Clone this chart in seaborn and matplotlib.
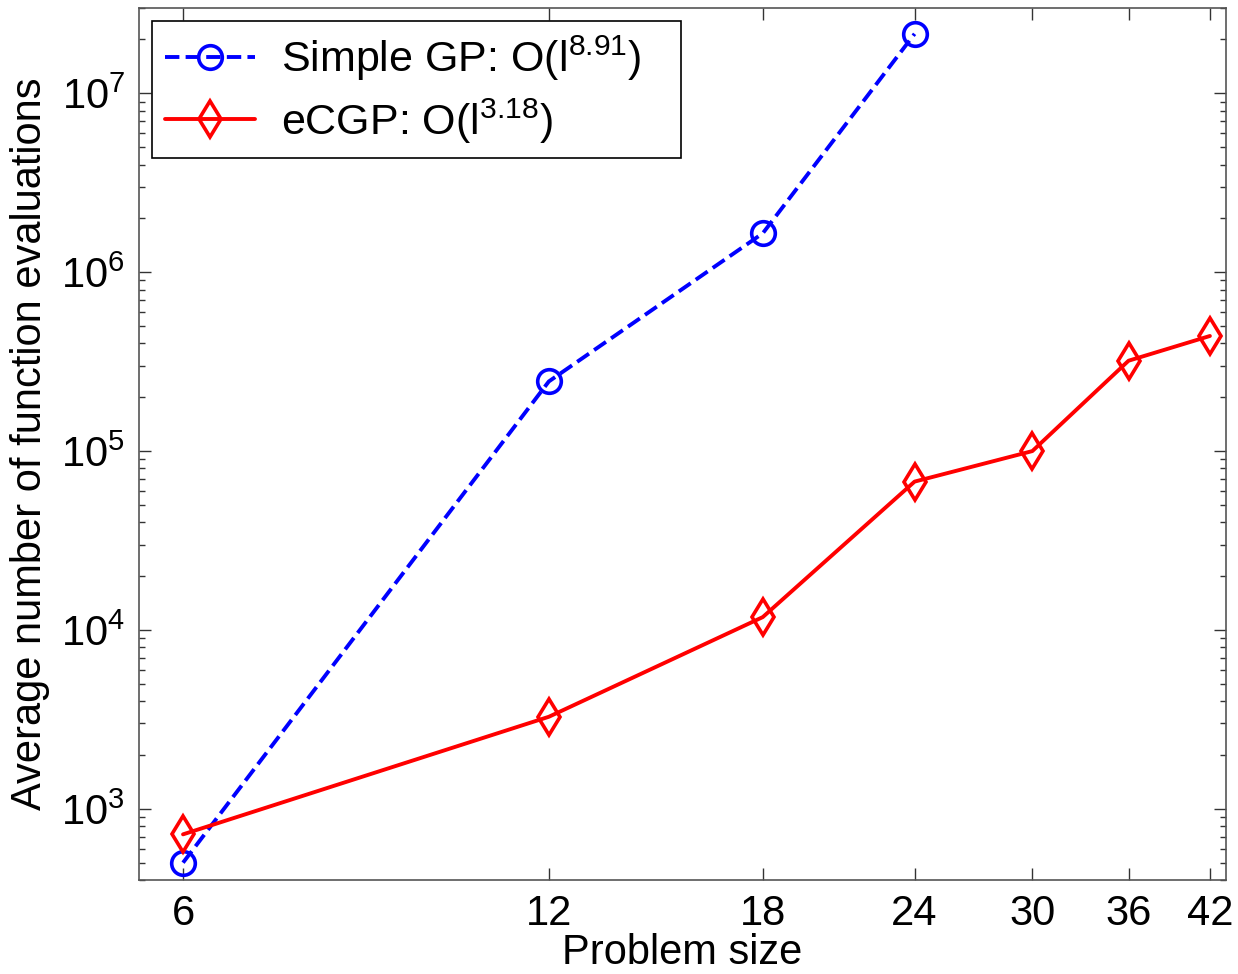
import numpy as np
import pandas as pd
import matplotlib
matplotlib.use("Agg")
import matplotlib.pyplot as plt
import seaborn as sns
from matplotlib.ticker import NullLocator, LogLocator

# data
sizes = [6, 12, 18, 24, 30, 36, 42]
gp_sizes = [6, 12, 18, 24]
gp_evals = [500, 2.45e5, 1.65e6, 2.15e7]
ecgp_evals = [720, 3270, 11800, 67500, 1.0e5, 3.2e5, 4.4e5]

# trailing spaces widen the legend box like the reference
gp_label = 'Simple GP: O(l$^{8.91}$)   '
ecgp_label = 'eCGP: O(l$^{3.18}$)'

sns.set_style("ticks")
plt.rcParams['font.family'] = ['Liberation Sans', 'DejaVu Sans']
plt.rcParams['mathtext.fontset'] = 'custom'
plt.rcParams['mathtext.rm'] = 'Liberation Sans'
plt.rcParams['mathtext.it'] = 'Liberation Sans:italic'
plt.rcParams['mathtext.bf'] = 'Liberation Sans:bold'
plt.rcParams['text.color'] = 'black'
plt.rcParams['axes.labelcolor'] = 'black'

df_gp = pd.DataFrame({'size': gp_sizes, 'evals': gp_evals})
df_ecgp = pd.DataFrame({'size': sizes, 'evals': ecgp_evals})

fig = plt.figure(figsize=(12.38, 9.74), dpi=100)
ax = fig.add_axes([0.1123, 0.0965, 0.8780, 0.8953])

sns.lineplot(data=df_gp, x='size', y='evals', ax=ax, color='#0000ff',
             linestyle='--', linewidth=2.8, marker='o', markersize=17,
             markerfacecolor='none', markeredgecolor='#0000ff',
             markeredgewidth=2.6, label=gp_label)
sns.lineplot(data=df_ecgp, x='size', y='evals', ax=ax, color='#ff0000',
             linestyle='-', linewidth=2.8, marker='d', markersize=18,
             markerfacecolor='none', markeredgecolor='#ff0000',
             markeredgewidth=2.6, label=ecgp_label)

ax.set_xscale('log')
ax.set_yscale('log')
ax.set_xlim(5.52, 43.3)
ax.set_ylim(400, 3e7)
ax.set_xticks(sizes)
ax.set_xticklabels([str(s) for s in sizes])
ax.xaxis.set_minor_locator(NullLocator())
ax.yaxis.set_major_locator(LogLocator(base=10, numticks=10))
ax.yaxis.set_minor_locator(LogLocator(base=10, subs=np.arange(2, 10), numticks=20))

for sp in ax.spines.values():
    sp.set_visible(True)
    sp.set_color('#555555')
    sp.set_linewidth(1.2)

ax.tick_params(which='both', direction='in', top=True, right=True,
               color='#333333', labelsize=30, labelcolor='black')
ax.tick_params(which='major', length=8.5, width=1, pad=10)
ax.tick_params(which='minor', length=4.5, width=1)

ax.set_xlabel('Problem size', fontsize=30, labelpad=-1)
ax.set_ylabel('Average number of function evaluations', fontsize=30, labelpad=8)

leg = ax.legend(loc='upper left', fontsize=31, frameon=True, fancybox=False,
                borderaxespad=0.3, handlelength=2.1, handletextpad=0.6,
                borderpad=0.3, labelspacing=0.3)
leg.get_frame().set_edgecolor('black')
leg.get_frame().set_linewidth(1.2)
leg.get_frame().set_alpha(1)

fig.savefig('out.png', dpi=100)
